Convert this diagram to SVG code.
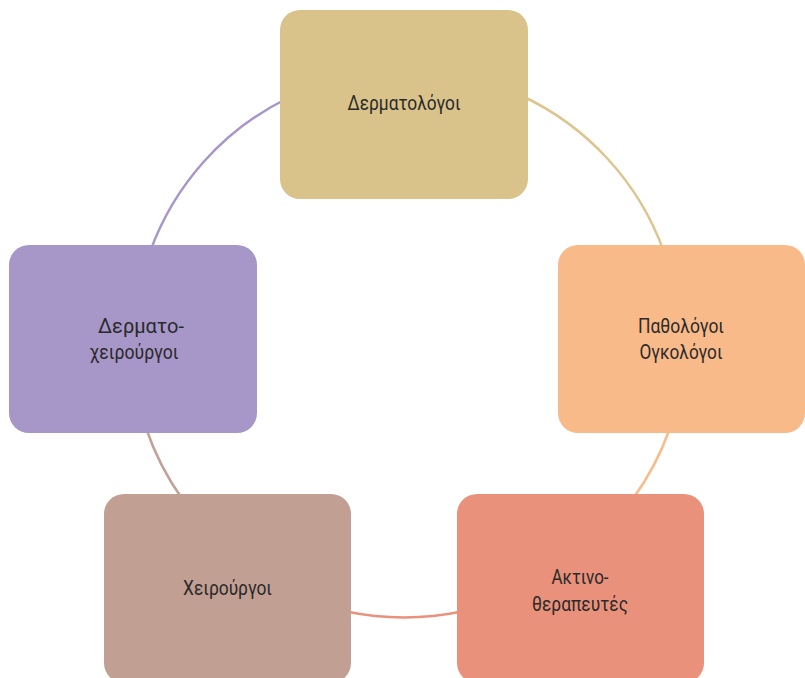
<svg xmlns="http://www.w3.org/2000/svg" width="805" height="678" viewBox="0 0 805 678">
<style>
.lbl{font-family:Roboto,"Liberation Sans",sans-serif;font-size:20px;fill:#2a2a2a;text-anchor:middle}
.arc{fill:none;stroke-width:2.5}
</style>
<rect width="805" height="678" fill="#ffffff"/>
<g id="connectors">
<path class="arc" stroke="#DCC58F" d="M520,95 A275,275 0 0 1 664,252"/>
<path class="arc" stroke="#F9BB8C" d="M670,428 A275,275 0 0 1 632,500"/>
<path class="arc" stroke="#EA917B" d="M462,611.5 A290,290 0 0 1 346,611.5"/>
<path class="arc" stroke="#C4A196" d="M183,500 A275,275 0 0 1 146,428"/>
<path class="arc" stroke="#A896C8" d="M150,252 A275,275 0 0 1 288,98"/>
</g>
<g id="node-dermatologoi">
<rect x="280" y="10" width="248" height="189" rx="20" fill="#D9C38B"/>
<text class="lbl" x="404" y="110" textLength="113" lengthAdjust="spacingAndGlyphs">Δερματολόγοι</text>
</g>
<g id="node-pathologoi">
<rect x="558" y="245" width="247" height="188" rx="20" fill="#F9BA8A"/>
<text class="lbl" x="681" y="333" textLength="86" lengthAdjust="spacingAndGlyphs">Παθολόγοι</text>
<text class="lbl" x="681" y="359" textLength="83" lengthAdjust="spacingAndGlyphs">Ογκολόγοι</text>
</g>
<g id="node-aktino">
<rect x="457" y="494" width="247" height="189" rx="20" fill="#EA917B"/>
<text class="lbl" x="580" y="584" textLength="57" lengthAdjust="spacingAndGlyphs">Ακτινο-</text>
<text class="lbl" x="580" y="611" textLength="96" lengthAdjust="spacingAndGlyphs">θεραπευτές</text>
</g>
<g id="node-cheirourgoi">
<rect x="104" y="494" width="247" height="189" rx="20" fill="#C29F93"/>
<text class="lbl" x="227.5" y="595" textLength="89" lengthAdjust="spacingAndGlyphs">Χειρούργοι</text>
</g>
<g id="node-dermatocheirourgoi">
<rect x="9" y="245" width="248" height="188" rx="20" fill="#A796C8"/>
<text class="lbl" x="141" y="333" textLength="86" lengthAdjust="spacingAndGlyphs">Δερματο-</text>
<text class="lbl" x="134" y="359" textLength="89" lengthAdjust="spacingAndGlyphs">χειρούργοι</text>
</g>
</svg>
